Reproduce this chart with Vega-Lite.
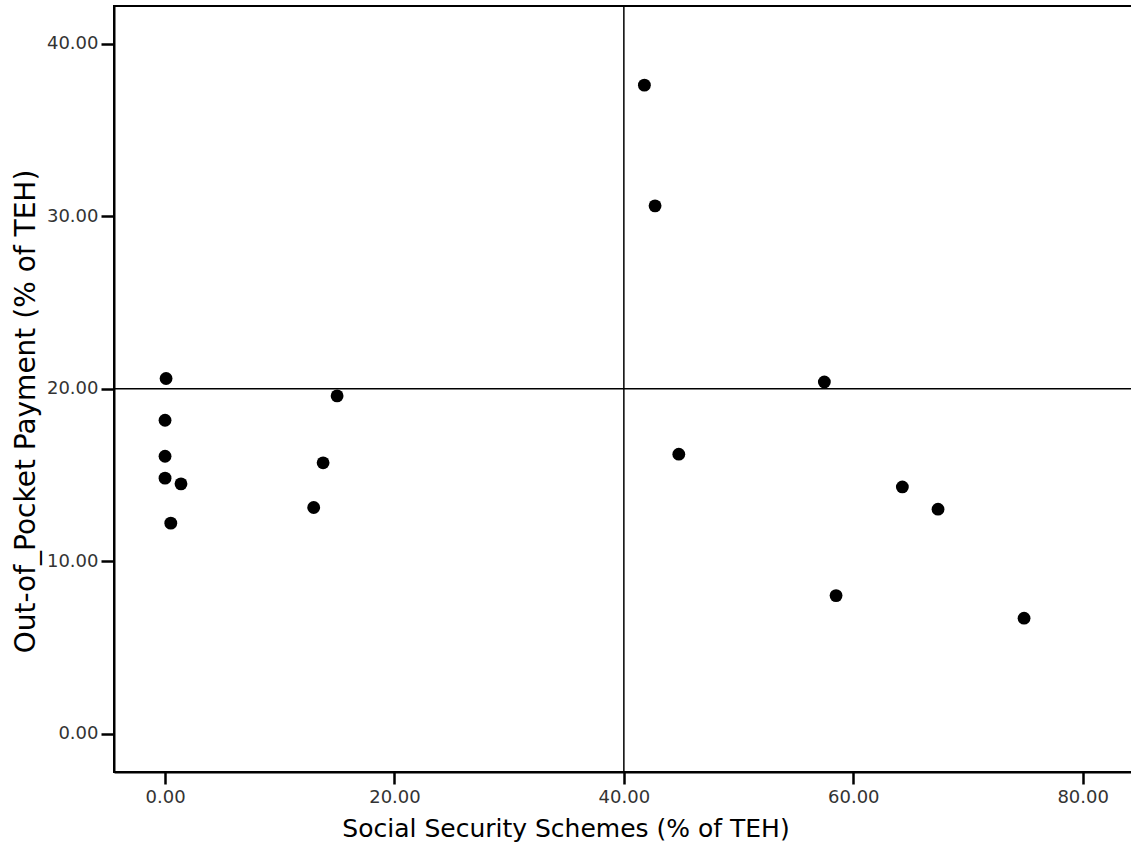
{
  "$schema": "https://vega.github.io/schema/vega-lite/v6.json",
  "width": 1018,
  "height": 766,
  "autosize": {"type": "none"},
  "padding": {"left": 114, "top": 6, "right": 0, "bottom": 78},
  "background": "white",
  "config": {
    "view": {"stroke": "#000000", "strokeWidth": 2},
    "axis": {
      "grid": false,
      "domainColor": "#000000",
      "domainWidth": 2,
      "tickColor": "#000000",
      "tickWidth": 2.5,
      "labelFont": "DejaVu Sans",
      "labelFontSize": 18,
      "labelColor": "#333333",
      "titleFont": "DejaVu Sans",
      "titleFontWeight": "normal",
      "titleColor": "#000000"
    }
  },
  "datasets": {
    "points": [
      {"sss": 41.79, "oop": 37.60},
      {"sss": 42.72, "oop": 30.60},
      {"sss": 0.09, "oop": 20.59},
      {"sss": 0.0, "oop": 18.17},
      {"sss": 0.0, "oop": 16.08},
      {"sss": 0.0, "oop": 14.81},
      {"sss": 1.39, "oop": 14.48},
      {"sss": 0.50, "oop": 12.20},
      {"sss": 15.00, "oop": 19.58},
      {"sss": 13.78, "oop": 15.70},
      {"sss": 12.96, "oop": 13.11},
      {"sss": 44.79, "oop": 16.20},
      {"sss": 57.48, "oop": 20.39},
      {"sss": 64.28, "oop": 14.30},
      {"sss": 67.39, "oop": 13.01},
      {"sss": 58.50, "oop": 8.00},
      {"sss": 74.89, "oop": 6.69}
    ],
    "vline": [{"sss": 40}],
    "hline": [{"oop": 20}]
  },
  "layer": [
    {
      "data": {"name": "vline"},
      "mark": {"type": "rule", "color": "#000000", "strokeWidth": 1.5},
      "encoding": {
        "x": {"field": "sss", "type": "quantitative", "scale": {"domain": [-4.45, 84.3], "nice": false, "zero": false}}
      }
    },
    {
      "data": {"name": "hline"},
      "mark": {"type": "rule", "color": "#000000", "strokeWidth": 1.5},
      "encoding": {
        "y": {"field": "oop", "type": "quantitative", "scale": {"domain": [-2.23, 42.19], "nice": false, "zero": false}}
      }
    },
    {
      "data": {"name": "points"},
      "mark": {"type": "point", "shape": "circle", "filled": true, "color": "#000000", "opacity": 1, "size": 165},
      "encoding": {
        "x": {
          "field": "sss",
          "type": "quantitative",
          "scale": {"domain": [-4.45, 84.3], "nice": false, "zero": false},
          "axis": {
            "title": "Social Security Schemes (% of TEH)",
            "values": [0, 20, 40, 60, 80],
            "format": ".2f",
            "tickSize": 12,
            "labelPadding": 4,
            "titleFontSize": 25,
            "titleX": 451.5,
            "titleY": 64,
            "titleAlign": "center",
            "titleBaseline": "alphabetic"
          }
        },
        "y": {
          "field": "oop",
          "type": "quantitative",
          "scale": {"domain": [-2.23, 42.19], "nice": false, "zero": false},
          "axis": {
            "title": "Out-of_Pocket Payment (% of TEH)",
            "values": [0, 10, 20, 30, 40],
            "format": ".2f",
            "tickSize": 13,
            "labelPadding": 3,
            "titleFontSize": 28,
            "titleAngle": -90,
            "titleX": -88,
            "titleY": 405,
            "titleAlign": "center",
            "titleBaseline": "middle"
          }
        }
      }
    }
  ]
}
